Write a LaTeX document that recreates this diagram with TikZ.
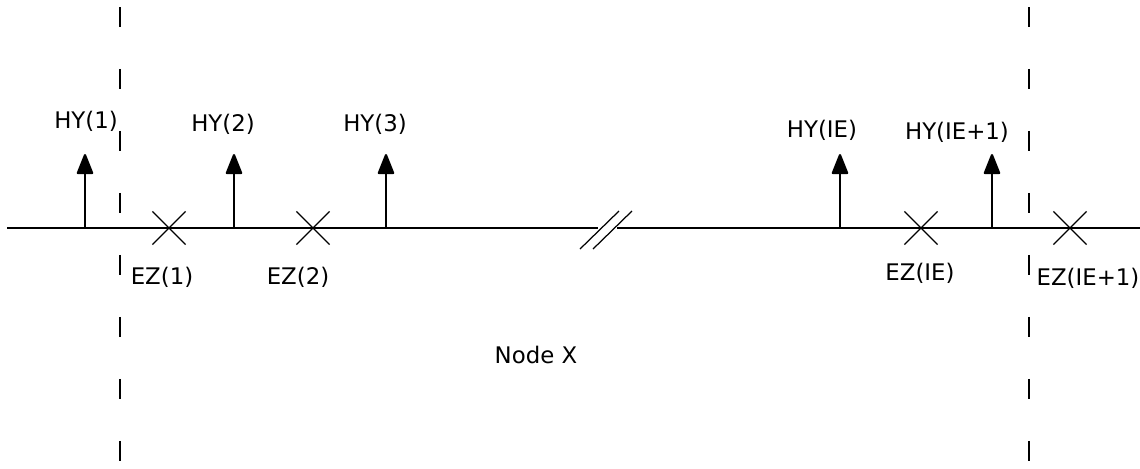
\documentclass[tikz,border=0pt]{standalone}
\usepackage{fontspec}
\setmainfont{DejaVu Sans}
\usetikzlibrary{positioning,arrows.meta,shapes.misc}

\begin{document}
\begin{tikzpicture}[x=0.02cm,y=-0.02cm,>={Triangle[length=4.4mm,width=3.4mm,round]},
  lbl/.style={font=\fontsize{13}{15}\selectfont,inner sep=0pt},
  ezmark/.style={draw,cross out,minimum size=0.64cm,inner sep=0pt,line width=0.7pt},
  cellline/.style={line width=1.2pt,dash pattern=on 0.4cm off 0.84cm}]
\useasboundingbox (0,0) rectangle (1140,468);
% axis with break
\coordinate (axL) at (7,228);
\coordinate (brL) at (598,228);
\coordinate (brR) at (617,228);
\coordinate (axR) at (1140,228);
\draw[line width=1.2pt] (axL) -- (brL);
\draw[line width=1.2pt] (brR) -- (axR);
\coordinate (s1a) at (580,249);
\coordinate (s1b) at (619,211);
\coordinate (s2a) at (593,249);
\coordinate (s2b) at (632,211);
\draw[line width=0.7pt] (s1a) -- (s1b);
\draw[line width=0.7pt] (s2a) -- (s2b);
% cell boundaries
\coordinate (c1t) at (120,7);
\coordinate (c1b) at (120,463);
\coordinate (c2t) at (1029,7);
\coordinate (c2b) at (1029,463);
\draw[cellline] (c1t) -- (c1b);
\draw[cellline] (c2t) -- (c2b);
% HY components
\foreach \x/\lx/\ly/\t [count=\i] in {85/86/121/HY(1),234/223/124/HY(2),386/375/124/HY(3),840/822/130/HY(IE),992/957/132/HY(IE+1)}{
  \coordinate (hyb\i) at (\x,228);
  \coordinate (hyt\i) at (\x,154);
  \draw[->,line width=1.2pt] (hyb\i) -- (hyt\i);
  \node[lbl] (hy\i) at (\lx,\ly) {\t};
}
% EZ components
\foreach \x/\lx/\ly/\t [count=\i] in {169/162/277/EZ(1),313/298/277/EZ(2),921/920/273/EZ(IE),1070/1088/278/EZ(IE+1)}{
  \node[ezmark] (ez\i) at (\x,228) {};
  \node[lbl] (ezl\i) at (\lx,\ly) {\t};
}
\node[lbl] (nodex) at (536,355) {Node X};
\end{tikzpicture}
\end{document}
